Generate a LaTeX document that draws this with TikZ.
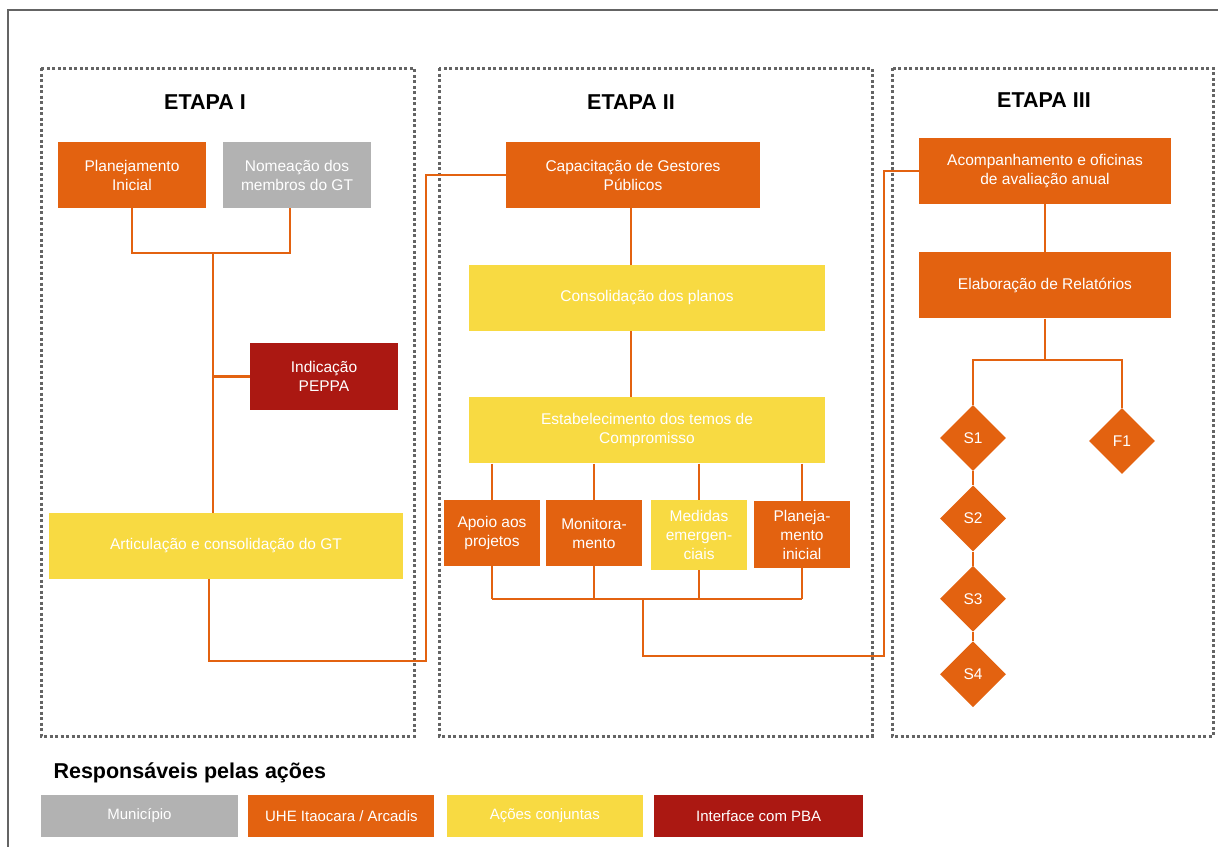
\documentclass[tikz,border=0pt]{standalone}
\usepackage{fontspec}
\setmainfont{Liberation Sans}
\usepackage{xcolor}
\usetikzlibrary{shapes.geometric, positioning, calc}

\definecolor{uheorange}{RGB}{227,98,16}
\definecolor{munigray}{RGB}{178,178,178}
\definecolor{jointyellow}{RGB}{248,218,66}
\definecolor{pbared}{RGB}{171,24,18}
\definecolor{framegray}{RGB}{100,100,100}

\begin{document}
\begin{tikzpicture}[
  x=1pt, y=-1pt,
  node distance=10pt,
  box/.style={rectangle, inner sep=0pt, align=center, text=white,
              font=\fontsize{15.5}{19}\selectfont},
  orangebox/.style={box, fill=uheorange},
  graybox/.style={box, fill=munigray},
  yellowbox/.style={box, fill=jointyellow},
  redbox/.style={box, fill=pbared},
  wide/.style={minimum width=148pt, minimum height=66pt},
  small/.style={minimum width=96pt, minimum height=66pt},
  sbox/.style={diamond, fill=uheorange, inner sep=0pt, minimum size=66pt,
               text=white, font=\fontsize{15.5}{17}\selectfont},
  legbox/.style={box, minimum height=42pt, font=\fontsize{15}{17}\selectfont},
  panel/.style={draw=framegray, line width=3pt, dash pattern=on 3pt off 2.5pt},
  title/.style={font=\fontsize{21.5}{24}\selectfont\bfseries},
  conn/.style={draw=uheorange, line width=2.4pt}
]
  \useasboundingbox (0,0) rectangle (1218,847);
  \draw[framegray, line width=1.5pt] (1218,10) -- (8,10) -- (8,847);

  % stage panels
  \draw[panel] (41,68) rectangle (414,736);
  \draw[panel] (439,68) rectangle (872,736);
  \draw[panel] (892,68) rectangle (1213,736);
  \node[title] (t1) at (205,102) {ETAPA I};
  \node[title] (t2) at (631,102) {ETAPA II};
  \node[title] (t3) at (1044,100) {ETAPA III};

  % etapa I
  \node[orangebox, wide] (plan)  at (132,175) {Planejamento\\Inicial};
  \node[graybox, wide]   (nomea) at (297,175) {Nomeação dos\\membros do GT};
  \node[redbox, wide, minimum height=67pt] (peppa) at (324,376.5) {Indicação\\PEPPA};
  \node[yellowbox, minimum width=354pt, minimum height=66pt] (artic) at (226,546)
       {Articulação e consolidação do GT};

  % etapa II
  \node[orangebox, minimum width=254pt, minimum height=66pt] (capac) at (633,175)
       {Capacitação de Gestores\\Públicos};
  \node[yellowbox, minimum width=356pt, minimum height=66pt] (consol) at (647,298)
       {Consolidação dos planos};
  \node[yellowbox, minimum width=356pt, minimum height=66pt, below=66pt of consol] (estab)
       {Estabelecimento dos temos de\\Compromisso};
  \node[orangebox, small] (apoio) at (492,533) {Apoio aos\\projetos};
  \node[orangebox, small] (monit) at (594,533) {Monitora-\\mento};
  \node[yellowbox, small, minimum height=70pt] (medid) at (699,535) {Medidas\\emergen-\\ciais};
  \node[orangebox, small, minimum height=67pt] (planj) at (802,534.5) {Planeja-\\mento\\inicial};

  % etapa III
  \node[orangebox, minimum width=252pt, minimum height=66pt] (acomp) at (1045,171)
       {Acompanhamento e oficinas\\de avaliação anual};
  \node[orangebox, minimum width=252pt, minimum height=66pt, below=48pt of acomp] (elab)
       {Elaboração de Relatórios};
  \node[sbox] (s1) at (973,438) {S1};
  \node[sbox, below=14pt of s1] (s2) {S2};
  \node[sbox, below=14pt of s2] (s3) {S3};
  \node[sbox, below=9pt of s3]  (s4) {S4};
  \node[sbox] (f1) at (1122,441) {F1};

  % connectors
  \coordinate (j1) at (213,253);
  \coordinate (k1) at (426,661);
  \coordinate (bar) at (0,599);
  \coordinate (b2) at (643,599);
  \coordinate (k2) at (884,656);
  \coordinate (j3) at (1045,360);

  \draw[conn] (plan.south) |- (j1) -| ([xshift=-7pt]nomea.south);
  \draw[conn] (j1) -- (j1 |- artic.north);
  \draw[conn] (peppa.west) -- (peppa.west -| j1);
  \draw[conn] ([xshift=-17pt]artic.south) |- (k1) |- (capac.west);
  \draw[conn] ([xshift=-2pt]capac.south) -- ([xshift=-2pt]capac.south |- consol.north);
  \draw[conn] ([xshift=-16pt]consol.south) -- ([xshift=-16pt]estab.north);
  \foreach \b in {apoio,monit,medid,planj}{
    \draw[conn] (\b.north |- estab.south) -- (\b.north);
    \draw[conn] (\b.south) -- (\b.south |- bar);
  }
  \draw[conn] (apoio.south |- bar) -- (planj.south |- bar);
  \draw[conn] (b2) |- (k2) |- (acomp.west);
  \draw[conn] (acomp.south) -- (elab.north);
  \draw[conn] (elab.south) -- (j3);
  \draw[conn] (s1.north) |- (j3) -| (f1.north);
  \draw[conn] (s1) -- (s2);
  \draw[conn] (s2) -- (s3);
  \draw[conn] (s3) -- (s4);

  % legend
  \node[anchor=west, font=\fontsize{21.5}{24}\selectfont\bfseries] (leg) at (50,773)
       {Responsáveis pelas ações};
  \node[graybox, legbox, minimum width=197pt] (mun) at (139.5,816) {Município};
  \node[orangebox, legbox, minimum width=186pt, right=10pt of mun] (uhe) {UHE Itaocara / Arcadis};
  \node[yellowbox, legbox, minimum width=196pt, right=12pt of uhe] (conj) {Ações conjuntas};
  \node[redbox, legbox, minimum width=209pt, right=11pt of conj] (pba) {Interface com PBA};
\end{tikzpicture}
\end{document}
